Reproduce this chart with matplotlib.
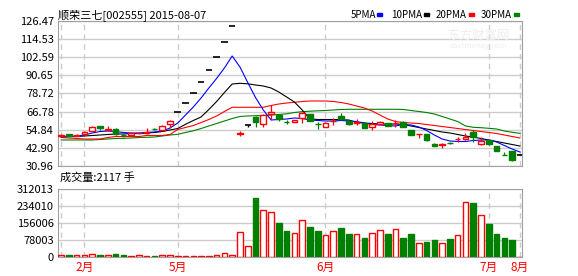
import numpy as np
import matplotlib
matplotlib.use('Agg')
from matplotlib import pyplot as plt
from matplotlib.patches import Rectangle

plt.rcParams['font.family'] = ['Noto Sans CJK SC', 'DejaVu Sans']

# K线数据 (开, 高, 低, 收), 60 个交易日
opens = [51.0, 51.8, 51.0, 52.2, 54.0, 57.1, 54.7, 55.3, 51.5, 51.4,
         52.5, 53.0, 55.4, 54.7, 58.4, 66.5, 72.3, 79.0, 86.3, 94.0,
         102.6, 112.4, 123.2, 52.0, 58.0, 63.4, 58.4, 65.4, 64.8, 60.1,
         60.0, 62.4, 65.2, 58.5, 56.8, 60.4, 64.1, 60.8, 59.6, 59.5,
         56.5, 58.6, 59.1, 59.0, 60.1, 54.7, 51.8, 52.0, 45.6, 45.1,
         46.4, 48.6, 48.7, 53.5, 45.3, 47.9, 44.1, 38.1, 40.6, 38.4]
highs = [52.0, 52.0, 51.8, 54.2, 57.4, 57.3, 57.0, 56.0, 52.0, 52.8,
         53.0, 56.0, 55.8, 58.0, 61.4, 66.5, 72.3, 79.0, 86.3, 94.0,
         102.6, 112.4, 123.2, 54.0, 58.2, 63.6, 65.0, 71.1, 65.0, 61.3,
         61.4, 66.7, 65.5, 59.9, 59.8, 62.4, 65.7, 61.0, 61.7, 59.8,
         60.4, 60.4, 59.4, 61.3, 60.4, 55.0, 52.1, 52.2, 45.8, 45.9,
         47.0, 49.9, 52.5, 54.5, 50.3, 48.0, 44.3, 40.4, 40.8, 38.4]
lows = [50.5, 50.5, 50.8, 52.0, 53.8, 55.0, 54.5, 51.5, 50.2, 51.2,
        52.3, 52.0, 55.0, 54.5, 56.3, 66.5, 72.3, 79.0, 86.3, 94.0,
        102.6, 112.4, 123.2, 51.0, 56.4, 56.8, 56.4, 61.7, 60.6, 58.6,
        59.8, 59.5, 60.3, 55.3, 56.6, 58.0, 61.3, 58.0, 58.0, 56.0,
        54.7, 58.4, 57.0, 56.8, 56.5, 51.3, 49.2, 47.6, 44.1, 42.8,
        45.6, 46.9, 48.1, 46.9, 44.8, 45.0, 40.8, 37.9, 34.3, 38.4]
closes = [51.3, 50.7, 51.3, 53.5, 56.6, 56.0, 55.3, 52.2, 51.3, 52.5,
          52.7, 53.2, 55.3, 57.3, 60.8, 66.5, 72.3, 79.0, 86.3, 94.0,
          102.6, 112.4, 123.2, 52.9, 58.0, 60.1, 64.5, 66.7, 61.9, 59.9,
          61.2, 65.7, 60.6, 58.3, 59.5, 60.6, 61.9, 58.4, 59.9, 56.2,
          58.4, 60.1, 57.3, 59.2, 56.8, 51.6, 52.0, 47.9, 44.3, 45.3,
          46.3, 48.8, 50.3, 49.9, 47.6, 45.3, 41.0, 38.0, 34.9, 38.4]
volumes = [7700, 7700, 7700, 10800, 15400, 7700, 7700, 12400, 7700, 3000,
           7700, 3000, 3000, 10800, 10800, 3000, 3000, 3000, 3000, 3000,
           7700, 20000, 7700, 112800, 49400, 271800, 216200, 205400, 156000, 119000,
           108100, 168400, 137500, 119000, 98900, 117400, 132800, 105000, 103500, 86500,
           108100, 122000, 105000, 126600, 86500, 105000, 66400, 68000, 77200, 66400,
           81900, 98900, 251800, 248700, 191500, 151400, 105000, 86500, 77200, 2117]

# 均线
ma5 = [50.06, 50.39, 50.72, 51.38, 52.70, 53.68, 54.01, 53.68, 53.03, 52.70,
       52.70, 53.03, 53.36, 54.01, 55.99, 59.28, 64.55, 69.82, 75.75, 82.34,
       88.66, 95.51, 103.42, 96.17, 85.96, 76.08, 67.85, 61.26, 61.59, 61.92,
       62.58, 62.25, 61.26, 60.93, 60.60, 60.60, 60.93, 60.60, 60.27, 59.28,
       58.30, 57.97, 57.64, 57.31, 58.30, 57.97, 56.65, 54.34, 51.38, 48.75,
       47.43, 47.10, 47.10, 47.76, 48.09, 48.09, 46.77, 44.46, 42.16, 40.18]
ma10 = [50.39, 50.39, 50.39, 50.72, 51.05, 51.38, 51.71, 52.04, 52.04, 52.37,
        52.37, 52.70, 53.03, 53.68, 54.67, 55.66, 58.43, 60.93, 63.24, 68.18,
        73.45, 79.37, 84.97, 85.43, 85.10, 84.31, 83.66, 82.34, 79.70, 76.41,
        73.12, 67.85, 61.92, 61.59, 61.59, 61.59, 61.46, 61.26, 59.61, 59.28,
        58.95, 58.63, 58.63, 58.63, 58.30, 57.31, 56.32, 55.33, 54.34, 53.36,
        52.70, 51.71, 50.72, 50.06, 49.07, 48.09, 47.10, 46.11, 45.12, 44.13]
ma20 = [49.73, 49.40, 49.07, 48.75, 48.75, 48.75, 49.73, 50.39, 50.39, 50.39,
        50.39, 51.05, 51.05, 51.05, 51.71, 55.00, 56.32, 57.64, 59.61, 61.59,
        63.90, 66.86, 69.63, 69.63, 69.63, 69.63, 69.63, 70.81, 71.80, 72.46,
        72.92, 73.45, 73.78, 73.78, 73.78, 73.45, 72.79, 71.80, 70.48, 69.16,
        67.19, 64.55, 61.92, 60.27, 59.61, 59.28, 58.95, 58.30, 57.64, 56.98,
        56.32, 55.66, 55.00, 54.34, 53.68, 53.03, 52.37, 51.38, 50.39, 49.40]
ma30 = [48.09, 48.09, 48.09, 48.09, 48.09, 48.42, 48.75, 49.07, 49.20, 49.40,
        49.73, 49.86, 50.06, 50.72, 51.38, 51.84, 53.03, 54.15, 55.66, 57.31,
        58.95, 60.60, 62.25, 63.57, 63.90, 64.10, 64.22, 64.55, 64.88, 65.34,
        66.20, 66.73, 67.06, 67.32, 67.52, 67.85, 68.18, 68.31, 68.31, 68.31,
        68.31, 68.31, 68.31, 68.31, 68.18, 67.52, 66.86, 66.20, 65.21, 63.57,
        61.92, 60.27, 57.31, 56.45, 56.19, 55.79, 55.33, 54.01, 53.16, 52.50]

price_ticks = [30.96, 42.90, 54.84, 66.78, 78.72, 90.65, 102.59, 114.53, 126.47]
vol_ticks = [0, 78003, 156006, 234010, 312013]
month_pos = [0, 3, 15, 34, 55, 59]
month_labels = ['', '2月', '5月', '6月', '7月', '8月']

RED = '#ff0000'
GREEN = '#008000'
GRID = '#cccccc'
SPINE = '#a0a0a0'

fig = plt.figure(figsize=(5.78, 2.76), dpi=100)
W, H = 578, 276
ax = fig.add_axes([58 / W, 1 - 166 / H, 464 / W, 145 / H])
axv = fig.add_axes([58 / W, 1 - 257 / H, 464 / W, 68 / H])

n = len(closes)
x = np.arange(n)

for a in (ax, axv):
    a.set_xlim(-0.4, n - 1 + 0.27)
    for s in a.spines.values():
        s.set_color(SPINE)
    a.tick_params(length=0, labelsize=8, pad=3)
    for m in month_pos:
        a.axvline(m, color=GRID, lw=1, ls=(0, (4, 3)), zorder=0)

# 价格面板
ax.set_ylim(price_ticks[0], price_ticks[-1])
ax.set_yticks(price_ticks)
ax.set_yticklabels(['%.2f' % v for v in price_ticks])
for v in price_ticks:
    ax.axhline(v, color=GRID, lw=1, zorder=0)
ax.set_xticks([])

for i in range(n):
    o, h, l, c = opens[i], highs[i], lows[i], closes[i]
    if o == c:
        col = 'black'
        if h == l:
            ax.hlines(c, i - 0.42, i + 0.42, color=col, lw=1.2, zorder=3)
            continue
        ax.vlines(i, l, h, color=col, lw=1, zorder=3)
        ax.hlines(c, i - 0.36, i + 0.36, color=col, lw=1.2, zorder=3)
        continue
    col = RED if c > o else GREEN
    ax.vlines(i, l, h, color=col, lw=0.9, zorder=3)
    face = 'white' if c > o else GREEN
    ax.bar(i, abs(c - o), bottom=min(o, c), width=0.72, facecolor=face,
           edgecolor=col, lw=1, zorder=4)

ax.plot(x, ma30, color=GREEN, lw=0.8, zorder=2)
ax.plot(x, ma20, color=RED, lw=0.8, zorder=2)
ax.plot(x, ma10, color='black', lw=0.8, zorder=2)
ax.plot(x, ma5, color='#0000ff', lw=0.8, zorder=2)

# 成交量面板
axv.set_ylim(0, vol_ticks[-1])
axv.set_yticks(vol_ticks)
axv.set_yticklabels([str(v) for v in vol_ticks])
for v in vol_ticks:
    axv.axhline(v, color=GRID, lw=1, zorder=0)
for i in range(n):
    up = closes[i] >= opens[i]
    axv.bar(i, volumes[i], width=0.72, facecolor='white' if up else GREEN,
            edgecolor=RED if up else GREEN, lw=1, zorder=3)
axv.set_xticks(month_pos)
axv.set_xticklabels(month_labels, color=RED, fontsize=8.5)

# 文本
fig.text(58 / W, 1 - 15 / H, '顺荣三七[002555] 2015-08-07', fontsize=8,
         va='center', ha='left')
fig.text(60 / W, 1 - 177 / H, '成交量:2117 手', fontsize=8, va='center', ha='left')

legend = [('5PMA', 351, 377, '#0000ff'), ('10PMA', 391, 424, 'black'),
          ('20PMA', 436, 469, RED), ('30PMA', 481, 514, GREEN)]
for label, tx, sx, col in legend:
    fig.text(tx / W, 1 - 15 / H, label, fontsize=7, va='center', ha='left')
    fig.patches.append(Rectangle((sx / W, 1 - 15.5 / H), 5 / W, 2.5 / H,
                                 transform=fig.transFigure, color=col))

fig.text(478 / W, 1 - 35 / H, '东方财富网', fontsize=9, color='#eeeeee',
         ha='center', va='center')
fig.text(478 / W, 1 - 46 / H, 'eastmoney.com', fontsize=5.5, color='#eeeeee',
         ha='center', va='center')

fig.savefig('out.png', dpi=100)
